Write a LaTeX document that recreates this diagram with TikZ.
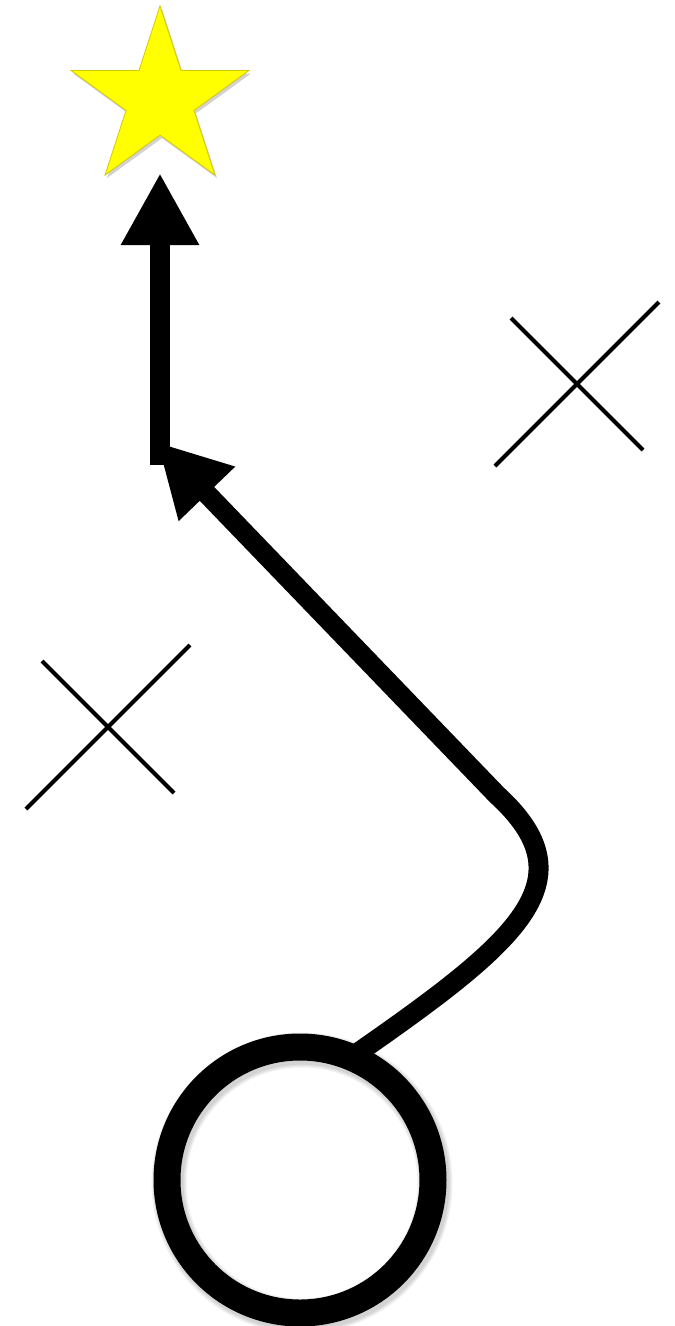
\documentclass[tikz,border=0pt]{standalone}
\usetikzlibrary{arrows.meta,shapes.geometric,shadows}
\begin{document}
\begin{tikzpicture}[x=1pt,y=-1pt,
  route/.style={line width=20pt, line join=round},
  head/.style={-{Triangle[length=72pt,width=73pt]}},
  xline/.style={line width=4pt},
  goalstar/.style={star, star points=5, star point ratio=2.618, minimum size=187pt, inner sep=0pt,
    fill={rgb,255:red,255;green,255;blue,0}, draw={rgb,255:red,215;green,200;blue,0}, line width=0.8pt,
    drop shadow={shadow xshift=2pt, shadow yshift=-3pt, opacity=0.35}},
  ring/.style={circle, draw, line width=27pt, minimum size=266pt, inner sep=0pt},
  ringshadow/.style={draw=black, line width=#1, opacity=0.06}]
\fill[white] (0,0) rectangle (675,1326);
\useasboundingbox (0,0) rectangle (675,1326);
% soft shadow of the ring
\foreach \w in {35,32,29} {\draw[ringshadow=\w pt] (302,1183) circle[radius=133];}
% nodes
\node[goalstar] (star) at (160,99.4) {};
\coordinate (goal) at (160,173);
\coordinate (turn) at (160,465);
\coordinate (bend) at (497,795);
\coordinate (tip1) at (157,442);
% route
\draw[route, head, shorten <=-10pt] (300,1180) ++(-64:146.5) coordinate (start)
  .. controls (520,940) and (590,880) .. (bend) -- (tip1);
\draw[route, head] (turn) -- (goal);
\node[ring] (c) at (300,1180) {};
% crosses
\coordinate (xa) at (577,384);
\coordinate (xb) at (108,727);
\draw[xline] (xa) +(-66,-66) -- +(66,66) (xa) +(82,-82) -- +(-82,82);
\draw[xline] (xb) +(-66,-66) -- +(66,66) (xb) +(82,-82) -- +(-82,82);
\end{tikzpicture}
\end{document}
